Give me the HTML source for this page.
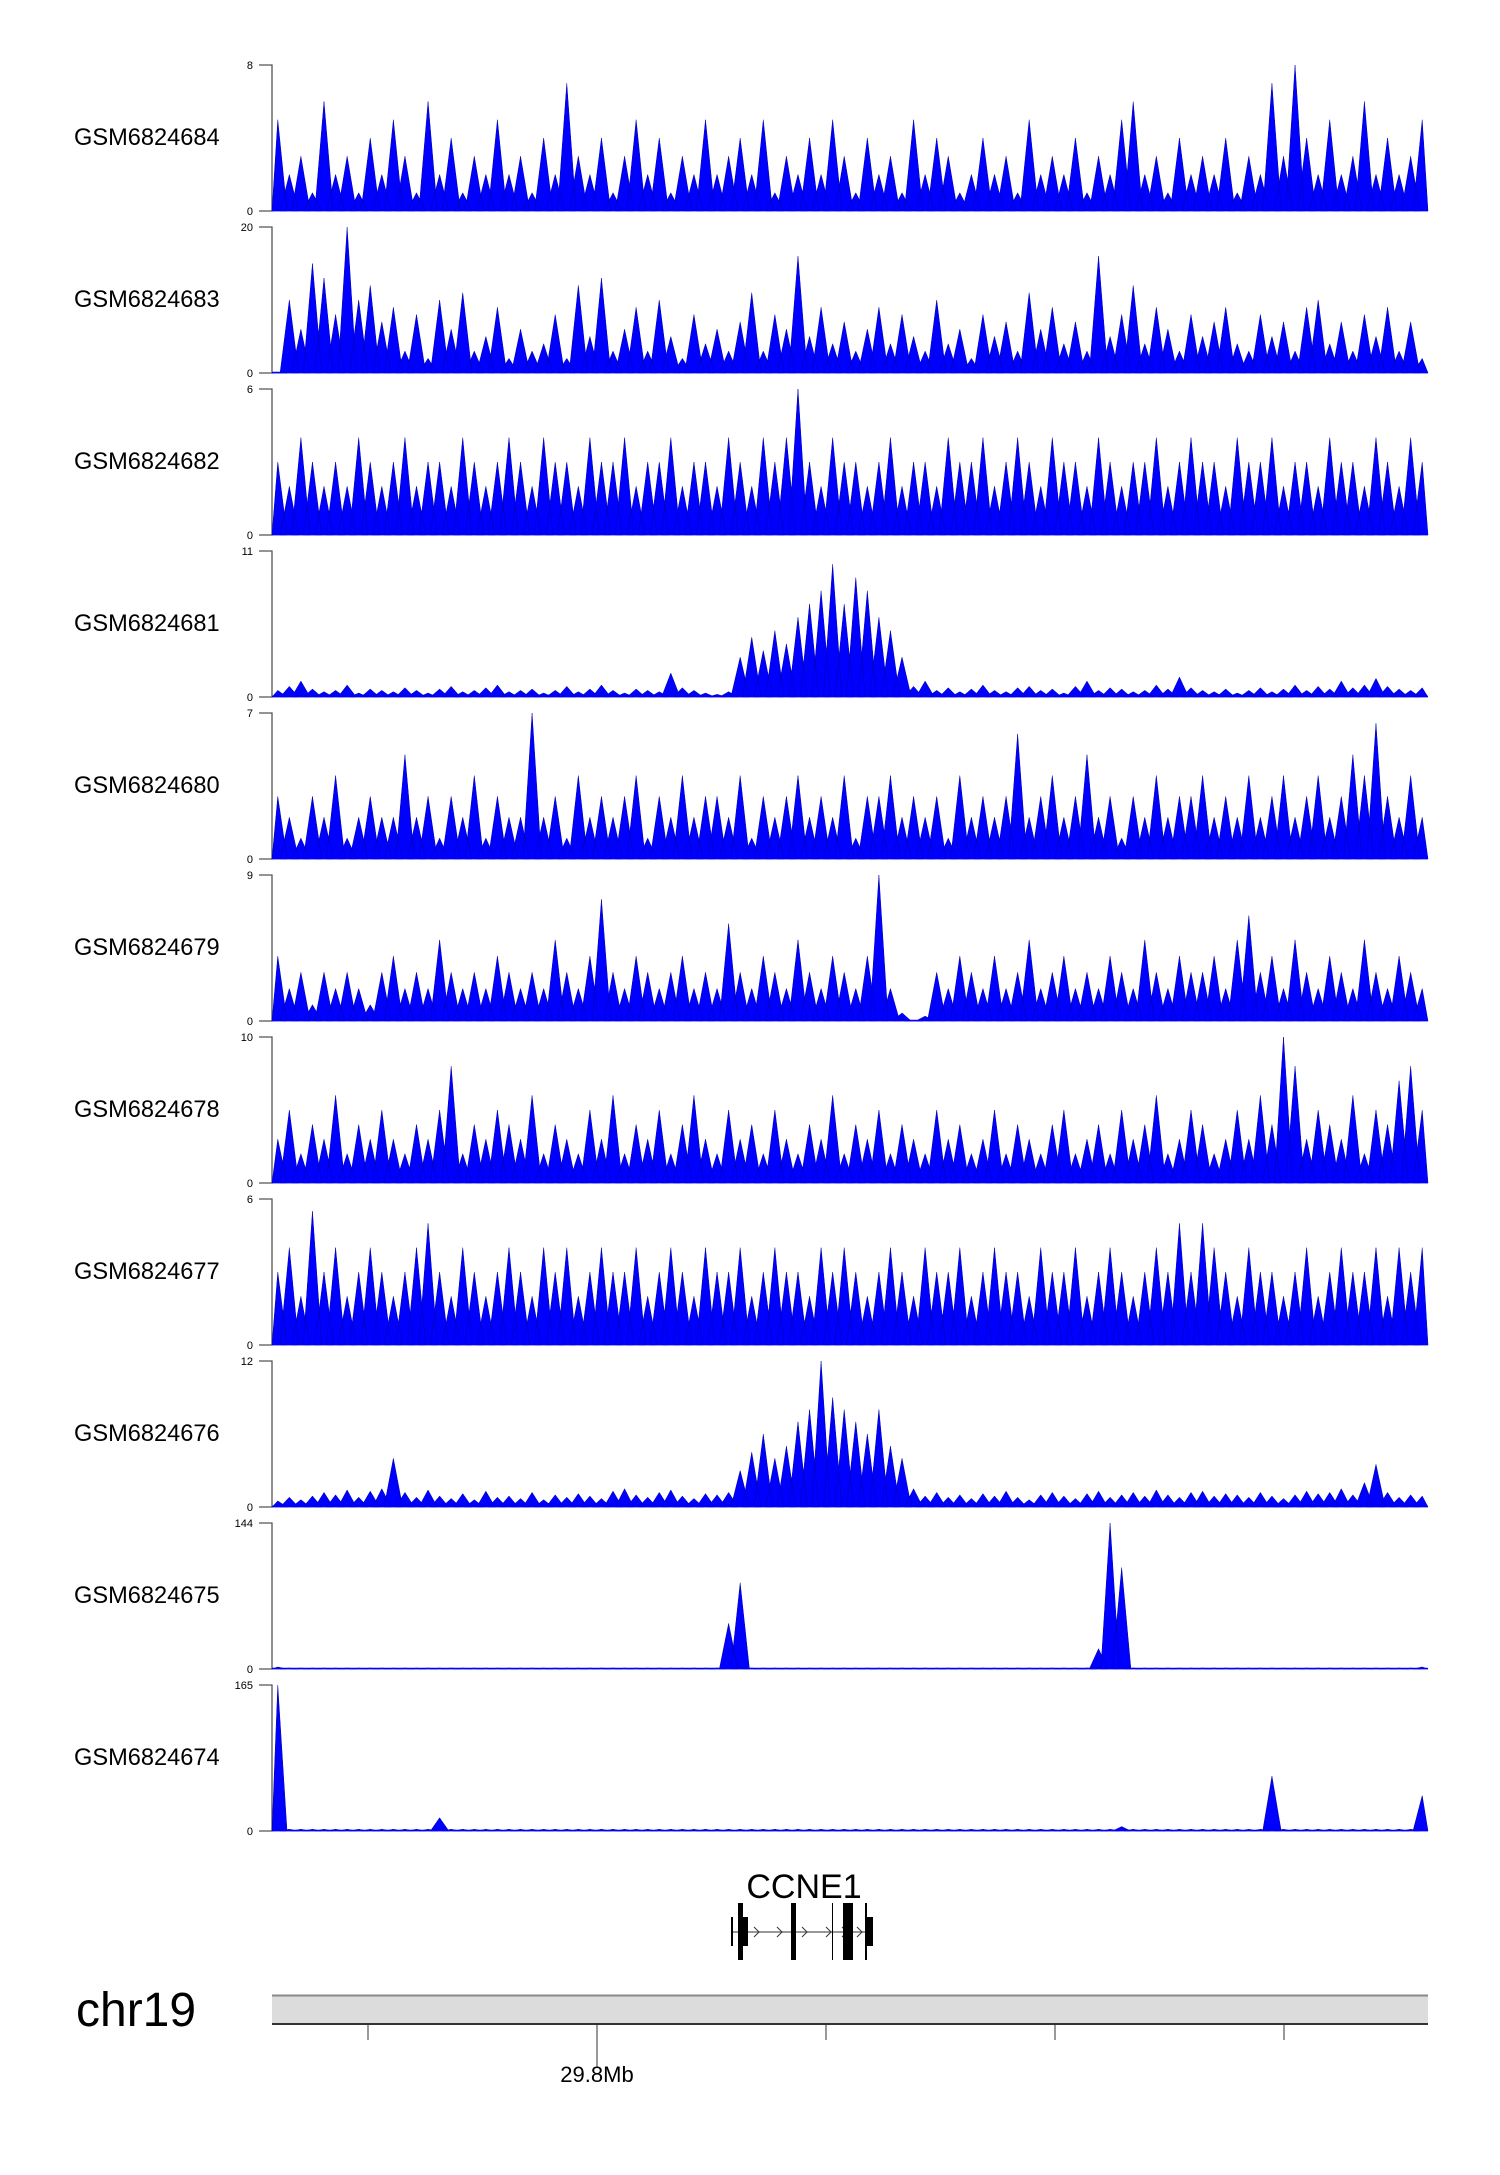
<!DOCTYPE html>
<html><head><meta charset="utf-8">
<style>
html,body{margin:0;padding:0;background:#fff;}
body{width:1500px;height:2170px;overflow:hidden;font-family:"Liberation Sans",sans-serif;}
svg text{font-family:"Liberation Sans",sans-serif;}
</style></head>
<body>
<svg id="chart" width="1500" height="2170" xmlns="http://www.w3.org/2000/svg">
<g id="tracks"></g>
<g id="gene"></g>
<g id="ideo"></g>
</svg>
<script>
const trackNames = ["GSM6824684","GSM6824683","GSM6824682","GSM6824681","GSM6824680","GSM6824679","GSM6824678","GSM6824677","GSM6824676","GSM6824675","GSM6824674"];
const trackMax = [8,20,6,11,7,9,10,6,12,144,165];
const t684 = [5,2,3,1,6,2,3,1,4,2,5,3,1,6,2,4,1,3,2,5,2,3,1,4,2,7,3,2,4,1,3,5,2,4,1,3,2,5,2,3,4,2,5,1,3,2,4,2,5,3,1,4,2,3,1,5,2,4,3,1,2,4,2,3,1,5,2,3,2,4,1,3,2,5,6,2,3,1,4,2,3,2,4,1,3,2,7,3,8,4,2,5,2,3,6,2,4,2,3,5];
const t683 = [0,10,6,15,13,8,20,10,12,7,9,3,8,2,10,6,11,3,5,9,2,6,3,4,8,2,12,5,13,3,6,9,3,10,5,2,8,4,6,3,7,11,3,8,6,16,5,9,4,7,3,6,9,4,8,5,3,10,4,6,2,8,5,7,3,11,6,9,4,7,3,16,5,8,12,4,9,6,3,8,5,7,9,4,3,8,5,7,3,9,10,4,7,3,8,5,9,3,7,2];
const t682 = [3,2,4,3,2,3,2,4,3,2,3,4,2,3,3,2,4,3,2,3,4,3,2,4,3,3,2,4,3,3,4,2,3,3,4,2,3,3,2,4,3,2,4,3,4,6,3,2,4,3,3,2,3,4,2,3,3,2,4,3,3,4,2,3,4,3,2,4,3,3,2,4,3,2,3,3,4,2,3,4,3,3,2,4,3,3,4,2,3,3,2,4,3,3,2,4,3,2,4,3];
const t681 = [0.5,0.8,1.2,0.6,0.4,0.5,0.9,0.3,0.6,0.5,0.4,0.7,0.5,0.3,0.6,0.8,0.4,0.5,0.7,0.9,0.4,0.5,0.6,0.3,0.5,0.8,0.4,0.6,0.9,0.5,0.3,0.6,0.5,0.4,1.8,0.7,0.5,0.3,0.2,0.4,3,4.5,3.5,5,4,6,7,8,10,7,9,8,6,5,3,0.8,1.2,0.5,0.7,0.4,0.6,0.9,0.5,0.4,0.7,0.8,0.5,0.6,0.3,0.8,1.2,0.5,0.7,0.6,0.4,0.5,0.9,0.6,1.5,0.7,0.5,0.4,0.6,0.3,0.5,0.7,0.4,0.6,0.9,0.5,0.8,0.6,1.2,0.7,0.9,1.4,0.8,0.6,0.5,0.7];
const t680 = [3,2,1,3,2,4,1,2,3,2,2,5,2,3,1,3,2,4,1,3,2,2,7,2,3,1,4,2,3,2,3,4,1,3,2,4,2,3,3,2,4,1,3,2,3,4,2,3,2,4,1,3,3,4,2,3,2,3,1,4,2,3,2,3,6,2,3,4,2,3,5,2,3,1,3,2,4,2,3,3,4,2,3,2,4,2,3,4,2,3,4,2,3,5,4,6.5,3,2,4,2];
const t679 = [4,2,3,1,3,2,3,2,1,3,4,2,3,2,5,3,2,3,2,4,3,2,3,2,5,3,2,4,7.5,3,2,4,3,2,3,4,2,3,2,6,3,2,4,3,2,5,3,2,4,3,2,4,9,2,0.5,0,0.3,3,2,4,3,2,4,2,3,5,2,3,4,2,3,2,4,3,2,5,3,2,4,3,3,4,2,5,6.5,3,4,2,5,3,2,4,3,2,5,3,2,4,3,2];
const t678 = [3,5,2,4,3,6,2,4,3,5,3,2,4,3,5,8,2,4,3,5,4,3,6,2,4,3,2,5,3,6,2,4,3,5,2,4,6,3,2,5,3,4,2,5,3,2,4,3,6,2,4,3,5,2,4,3,2,5,3,4,2,3,5,2,4,3,2,4,5,2,3,4,2,5,3,4,6,2,3,5,4,2,3,5,3,6,4,10,8,3,5,4,3,6,2,5,4,7,8,5];
const t677 = [3,4,2,5.5,3,4,2,3,4,3,2,3,4,5,3,2,4,3,2,3,4,3,2,4,3,4,2,3,4,3,3,4,2,3,4,3,2,4,3,3,4,2,3,4,3,3,2,4,3,4,3,2,3,4,3,2,4,3,3,4,2,3,4,3,3,2,4,3,3,4,2,3,4,3,2,3,4,3,5,3,5,4,3,2,4,3,3,2,3,4,2,3,4,3,3,4,2,4,3,4];
const t676 = [0.5,0.8,0.6,0.9,1.2,1.0,1.4,0.8,1.3,1.5,4,1.2,0.8,1.4,0.9,0.7,1.1,0.6,1.3,0.8,0.9,0.7,1.2,0.6,1.0,0.8,1.1,0.9,0.7,1.3,1.5,1.0,0.8,1.2,1.4,0.9,0.7,1.1,1.0,1.2,3,4.5,6,4,5,7,8,12,9,8,7,6,8,5,4,1.5,0.9,1.2,0.8,1.0,0.7,1.1,0.9,1.3,0.8,0.6,1.0,1.2,0.9,0.7,1.1,1.3,0.8,1.0,1.2,0.9,1.4,1.0,0.8,1.2,1.3,0.9,1.1,1.0,0.8,1.2,0.9,0.7,1.0,1.3,1.1,1.2,1.5,1.0,2,3.5,1.2,0.8,1.0,0.9];
const t675 = [2,1,1,1,1,1,1,1,1,1,1,1,1,1,1,1,1,1,1,1,1,1,1,1,1,1,1,1,1,1,1,1,1,1,1,1,1,1,1,45,85,1,1,1,1,1,1,1,1,1,1,1,1,1,1,1,1,1,1,1,1,1,1,1,1,1,1,1,1,1,1,20,144,100,1,1,1,1,1,1,1,1,1,1,1,1,1,1,1,1,1,1,1,1,1,1,1,1,1,2];
const t674 = [165,2,2,2,2,2,2,2,2,2,2,2,2,2,15,2,2,2,2,2,2,2,2,2,2,2,2,2,2,2,2,2,2,2,2,2,2,2,2,2,2,2,2,2,2,2,2,2,2,2,2,2,2,2,2,2,2,2,2,2,2,2,2,2,2,2,2,2,2,2,2,2,2,5,2,2,2,2,2,2,2,2,2,2,2,2,62,2,2,2,2,2,2,2,2,2,2,2,2,40];
const trackValues = [t684,t683,t682,t681,t680,t679,t678,t677,t676,t675,t674];
const axisTicks = ["","29.8Mb","","",""];
const exonTall = [[738,743],[791,796],[832,833],[843,853],[865,867]];
const exonShort = [[731,733],[740,748],[866,873]];

const NS="http://www.w3.org/2000/svg";
function mk(tag,attrs,parent){const e=document.createElementNS(NS,tag);for(const k in attrs)e.setAttribute(k,attrs[k]);parent.appendChild(e);return e;}
const X0=272,X1=1428,TOP0=65,PH=146,STEP=162;
const tracksG=document.getElementById('tracks');
trackNames.forEach((name,t)=>{
  const top=TOP0+STEP*t,bot=top+PH,vals=trackValues[t],mx=trackMax[t];
  const g=mk('g',{},tracksG);
  
  
  const lab=mk('text',{x:74,y:top+80,'font-size':23.6,fill:'#000'},g);
  lab.textContent=name;
  
  
  const ax=mk('path',{d:`M259 ${top}H${X0}V${bot}H259`,stroke:'#555',fill:'none','stroke-width':1.3},g);
  
  
  const tt=mk('text',{x:253,y:top+4,'font-size':11,'text-anchor':'end'},g);tt.textContent=mx;
  
  
  const tb=mk('text',{x:253,y:bot+4,'font-size':11,'text-anchor':'end'},g);tb.textContent='0';
  
  
  const n=vals.length,bw=(X1-X0)/n,w=bw*1.6;
  const xs=i=>X0+(i+0.5)*bw, ys=v=>bot-v/mx*PH;
  let d='';
  vals.forEach((v,i)=>{const cx=xs(i);const l=Math.max(X0,cx-w/2),r=Math.min(X1,cx+w/2);d+=`M${l} ${bot}L${cx} ${ys(v)}L${r} ${bot}Z`;});
  const p=mk('path',{d:d,fill:'#0000ff',stroke:'#0000aa','stroke-width':0.5},g);
  
  
  mk('line',{x1:X0,x2:X1,y1:bot-0.5,y2:bot-0.5,stroke:'#0000ff','stroke-width':1.5},g);
});
// gene
const gg=document.getElementById('gene');
const gl=mk('text',{x:804,y:1898,'font-size':34,'text-anchor':'middle',fill:'#000'},gg);gl.textContent='CCNE1';


mk('line',{x1:731,x2:873,y1:1932,y2:1932,stroke:'#777','stroke-width':1.5},gg);
[757,780,805,829,845,860].forEach(x=>mk('path',{d:`M${x-3} 1927L${x+2} 1932L${x-3} 1937`,stroke:'#333',fill:'none','stroke-width':1},gg));
exonTall.forEach(e=>{const r=mk('rect',{x:e[0],y:1903,width:e[1]-e[0],height:57,fill:'#000'},gg);});
exonShort.forEach(e=>{const r=mk('rect',{x:e[0],y:1917,width:e[1]-e[0],height:29,fill:'#000'},gg);});
// ideogram
const ig=document.getElementById('ideo');
const cl=mk('text',{x:76,y:2026,'font-size':48,fill:'#000'},ig);cl.textContent='chr19';


const bar=mk('rect',{x:X0,y:1995,width:X1-X0,height:29,fill:'#dcdcdc',stroke:'none'},ig);


mk('line',{x1:X0,x2:X1,y1:1995.5,y2:1995.5,stroke:'#888','stroke-width':2},ig);
mk('line',{x1:X0,x2:X1,y1:2024,y2:2024,stroke:'#333','stroke-width':2},ig);
const tickX=[368,597,826,1055,1284];
tickX.forEach((x,i)=>{
  mk('line',{x1:x,x2:x,y1:2024,y2:2040,stroke:'#333','stroke-width':1},ig);
  if(axisTicks[i]){
    mk('line',{x1:x,x2:x,y1:2040,y2:2068,stroke:'#333','stroke-width':1},ig);
    const tl=mk('text',{x:x,y:2082,'font-size':22,'text-anchor':'middle'},ig);tl.textContent=axisTicks[i];
    
    
  }
});
</script>
</body></html>
